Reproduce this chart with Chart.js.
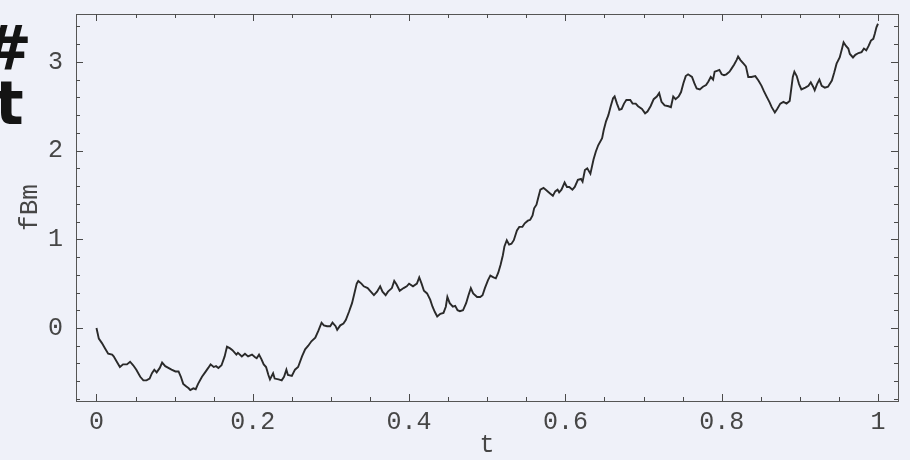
<!DOCTYPE html>
<html>
<head>
<meta charset="utf-8">
<title>fBm</title>
<script src="https://cdn.jsdelivr.net/npm/chart.js@4.4.1/dist/chart.umd.min.js"></script>
<style>
  html, body { margin: 0; padding: 0; background: #eff1f9; }
  #wrap { width: 910px; height: 460px; position: relative; }
</style>
</head>
<body>
<div id="wrap"><canvas id="c" width="910" height="460"></canvas></div>
<script>
// Sample times of the fractional Brownian motion path
const tValues = [
  0.000, 0.003, 0.007, 0.011, 0.015, 0.020, 0.022, 0.026, 0.030, 0.034, 0.039, 0.043, 0.047, 0.051, 0.056,
  0.060, 0.064, 0.068, 0.071, 0.074, 0.077, 0.081, 0.084, 0.088, 0.092, 0.096, 0.101, 0.105, 0.108, 0.111,
  0.115, 0.118, 0.120, 0.124, 0.127, 0.130, 0.135, 0.139, 0.143, 0.146, 0.150, 0.153, 0.156, 0.160, 0.164,
  0.167, 0.171, 0.174, 0.179, 0.181, 0.186, 0.190, 0.194, 0.199, 0.203, 0.205, 0.208, 0.211, 0.214, 0.217,
  0.220, 0.222, 0.226, 0.228, 0.233, 0.237, 0.240, 0.243, 0.245, 0.250, 0.254, 0.258, 0.263, 0.267, 0.271,
  0.275, 0.280, 0.284, 0.288, 0.291, 0.295, 0.299, 0.302, 0.306, 0.308, 0.312, 0.316, 0.319, 0.323, 0.327,
  0.330, 0.333, 0.335, 0.339, 0.342, 0.347, 0.351, 0.355, 0.359, 0.363, 0.366, 0.370, 0.373, 0.378, 0.381,
  0.384, 0.388, 0.393, 0.397, 0.400, 0.405, 0.410, 0.413, 0.416, 0.419, 0.423, 0.427, 0.430, 0.433, 0.436,
  0.440, 0.444, 0.447, 0.449, 0.452, 0.456, 0.459, 0.462, 0.465, 0.469, 0.473, 0.476, 0.479, 0.482, 0.487,
  0.491, 0.494, 0.497, 0.501, 0.504, 0.508, 0.511, 0.514, 0.517, 0.520, 0.522, 0.525, 0.528, 0.531, 0.534,
  0.538, 0.541, 0.545, 0.548, 0.552, 0.555, 0.558, 0.560, 0.563, 0.565, 0.568, 0.572, 0.576, 0.580, 0.584,
  0.587, 0.590, 0.592, 0.595, 0.599, 0.602, 0.605, 0.609, 0.612, 0.616, 0.620, 0.622, 0.625, 0.628, 0.632,
  0.636, 0.639, 0.642, 0.647, 0.649, 0.652, 0.655, 0.658, 0.661, 0.663, 0.666, 0.669, 0.672, 0.675, 0.678,
  0.683, 0.686, 0.690, 0.693, 0.698, 0.702, 0.705, 0.709, 0.713, 0.717, 0.720, 0.723, 0.727, 0.732, 0.735,
  0.738, 0.741, 0.745, 0.748, 0.751, 0.754, 0.757, 0.762, 0.765, 0.768, 0.772, 0.776, 0.780, 0.783, 0.786,
  0.789, 0.791, 0.794, 0.797, 0.800, 0.803, 0.806, 0.810, 0.813, 0.816, 0.819, 0.821, 0.824, 0.828, 0.831,
  0.834, 0.838, 0.843, 0.847, 0.851, 0.854, 0.858, 0.861, 0.864, 0.868, 0.871, 0.875, 0.879, 0.883, 0.887,
  0.891, 0.893, 0.896, 0.899, 0.902, 0.907, 0.911, 0.914, 0.917, 0.919, 0.922, 0.925, 0.928, 0.932, 0.936,
  0.941, 0.944, 0.947, 0.951, 0.954, 0.956, 0.959, 0.962, 0.964, 0.968, 0.971, 0.975, 0.979, 0.982, 0.985,
  0.988, 0.991, 0.994, 0.996, 0.998, 1.000
];

// Path values fBm(t) at each sample time
const fbmValues = [
  0.00, -0.12, -0.17, -0.23, -0.29, -0.30, -0.32, -0.38, -0.44, -0.41, -0.41, -0.38, -0.42, -0.47, -0.55,
  -0.59, -0.59, -0.57, -0.51, -0.47, -0.50, -0.45, -0.39, -0.43, -0.45, -0.47, -0.49, -0.49, -0.55, -0.63,
  -0.66, -0.68, -0.70, -0.68, -0.69, -0.63, -0.55, -0.50, -0.45, -0.41, -0.44, -0.43, -0.45, -0.42, -0.32,
  -0.21, -0.23, -0.25, -0.30, -0.28, -0.32, -0.29, -0.32, -0.30, -0.33, -0.34, -0.30, -0.35, -0.41, -0.44,
  -0.53, -0.58, -0.51, -0.57, -0.58, -0.59, -0.55, -0.47, -0.53, -0.54, -0.47, -0.44, -0.32, -0.24, -0.20,
  -0.15, -0.11, -0.03, 0.06, 0.03, 0.02, 0.02, 0.06, 0.02, -0.02, 0.03, 0.05, 0.09, 0.18, 0.28,
  0.39, 0.50, 0.53, 0.50, 0.47, 0.45, 0.41, 0.37, 0.41, 0.47, 0.41, 0.37, 0.41, 0.45, 0.53,
  0.49, 0.42, 0.45, 0.47, 0.50, 0.47, 0.50, 0.57, 0.50, 0.42, 0.39, 0.32, 0.24, 0.18, 0.13,
  0.16, 0.17, 0.24, 0.35, 0.28, 0.24, 0.25, 0.20, 0.19, 0.20, 0.28, 0.37, 0.45, 0.39, 0.35,
  0.35, 0.37, 0.45, 0.54, 0.59, 0.57, 0.56, 0.62, 0.71, 0.82, 0.92, 0.99, 0.94, 0.95, 0.99,
  1.10, 1.14, 1.14, 1.18, 1.21, 1.22, 1.27, 1.35, 1.39, 1.46, 1.56, 1.58, 1.55, 1.52, 1.49,
  1.54, 1.56, 1.53, 1.56, 1.64, 1.59, 1.59, 1.56, 1.59, 1.67, 1.68, 1.65, 1.78, 1.80, 1.74,
  1.90, 1.99, 2.06, 2.14, 2.23, 2.33, 2.40, 2.50, 2.59, 2.61, 2.53, 2.46, 2.47, 2.53, 2.57,
  2.57, 2.53, 2.53, 2.50, 2.47, 2.42, 2.44, 2.50, 2.58, 2.61, 2.65, 2.55, 2.51, 2.50, 2.49,
  2.61, 2.58, 2.61, 2.66, 2.76, 2.84, 2.86, 2.83, 2.76, 2.70, 2.69, 2.72, 2.74, 2.78, 2.83,
  2.80, 2.89, 2.90, 2.91, 2.86, 2.85, 2.86, 2.89, 2.93, 2.97, 3.02, 3.06, 3.02, 2.98, 2.95,
  2.83, 2.83, 2.84, 2.79, 2.73, 2.67, 2.60, 2.55, 2.49, 2.43, 2.47, 2.53, 2.55, 2.53, 2.56,
  2.83, 2.89, 2.84, 2.75, 2.69, 2.71, 2.73, 2.77, 2.72, 2.68, 2.75, 2.80, 2.73, 2.71, 2.72,
  2.79, 2.88, 2.98, 3.05, 3.15, 3.22, 3.18, 3.15, 3.09, 3.05, 3.08, 3.10, 3.11, 3.15, 3.13,
  3.18, 3.24, 3.26, 3.32, 3.39, 3.43
];

// Labelled frame ticks
const xTickValues = [0, 0.2, 0.4, 0.6, 0.8, 1];
const xTickLabels = ['0', '0.2', '0.4', '0.6', '0.8', '1'];
const yTickValues = [0, 1, 2, 3];
const yTickLabels = ['0', '1', '2', '3'];

// Plot range
const xMin = -0.0262, xMax = 1.0256;
const yMin = -0.823, yMax = 3.54;
const xMinorStep = 0.05;
const yMinorStep = 0.2;

const INK = '#464646';
const FONT = "'Liberation Mono', 'Courier New', 'DejaVu Sans Mono', monospace";

// Frame around the plot with ticks pointing inward on all four sides
const frameTicks = {
  id: 'frameTicks',
  afterDatasetsDraw(chart) {
    const { ctx, chartArea: a, scales: { x, y } } = chart;
    ctx.save();
    ctx.strokeStyle = '#555';
    ctx.lineWidth = 1;
    ctx.strokeRect(Math.round(a.left) + 0.5, Math.round(a.top) + 0.5,
                   Math.round(a.right - a.left), Math.round(a.bottom - a.top));
    ctx.strokeStyle = '#4a4a4a';
    const isMajor = (v, list) => list.some(m => Math.abs(m - v) < 1e-6);
    // horizontal axis ticks
    const nx0 = Math.ceil(xMin / xMinorStep), nx1 = Math.floor(xMax / xMinorStep);
    for (let k = nx0; k <= nx1; k++) {
      const v = +(k * xMinorStep).toFixed(4);
      const px = Math.round(x.getPixelForValue(v)) + 0.5;
      const len = isMajor(v, xTickValues) ? 7 : 4;
      ctx.beginPath();
      ctx.moveTo(px, a.bottom); ctx.lineTo(px, a.bottom - len);
      ctx.moveTo(px, a.top); ctx.lineTo(px, a.top + len);
      ctx.stroke();
    }
    // vertical axis ticks
    const ny0 = Math.ceil(yMin / yMinorStep), ny1 = Math.floor(yMax / yMinorStep);
    for (let k = ny0; k <= ny1; k++) {
      const v = +(k * yMinorStep).toFixed(4);
      const py = Math.round(y.getPixelForValue(v)) + 0.5;
      const len = isMajor(v, yTickValues) ? 7 : 4;
      ctx.beginPath();
      ctx.moveTo(a.left, py); ctx.lineTo(a.left + len, py);
      ctx.moveTo(a.right, py); ctx.lineTo(a.right - len, py);
      ctx.stroke();
    }
    ctx.restore();
  }
};

// Marker notes written in the page margin
const marginNotes = {
  id: 'marginNotes',
  afterDraw(chart) {
    const ctx = chart.ctx;
    ctx.save();
    ctx.fillStyle = '#141414';
    ctx.textBaseline = 'alphabetic';
    ctx.font = "bold 62px 'DejaVu Sans'";
    ctx.fillText('#', -20, 70);
    ctx.font = "bold 60px 'DejaVu Sans'";
    ctx.fillText('t', -5, 124);
    ctx.restore();
  }
};

const chart = new Chart(document.getElementById('c'), {
  type: 'line',
  data: {
    datasets: [{
      label: 'fBm',
      data: tValues.map((t, i) => ({ x: t, y: fbmValues[i] })),
      borderColor: '#2a2a2a',
      borderWidth: 1.9,
      pointRadius: 0,
      tension: 0,
      fill: false
    }]
  },
  options: {
    responsive: false,
    animation: false,
    layout: { padding: { top: 14, right: 12, left: 0, bottom: 0 } },
    plugins: { legend: { display: false }, tooltip: { enabled: false } },
    scales: {
      x: {
        type: 'linear',
        min: xMin,
        max: xMax,
        grid: { display: false, drawTicks: false },
        border: { display: false },
        afterBuildTicks: s => { s.ticks = xTickValues.map(v => ({ value: v })); },
        afterFit: s => { s.height = 59; s.paddingLeft = 0; s.paddingRight = 0; },
        ticks: {
          autoSkip: false,
          maxRotation: 0,
          padding: 6,
          color: INK,
          font: { family: FONT, size: 25 },
          callback: (v, i) => xTickLabels[i]
        },
        title: {
          display: true,
          text: 't',
          color: INK,
          font: { family: FONT, size: 25, lineHeight: 1 },
          padding: { top: 0, bottom: 2 }
        }
      },
      y: {
        type: 'linear',
        min: yMin,
        max: yMax,
        grid: { display: false, drawTicks: false },
        border: { display: false },
        afterBuildTicks: s => { s.ticks = yTickValues.map(v => ({ value: v })); },
        afterFit: s => { s.width = 76; s.paddingTop = 0; s.paddingBottom = 0; },
        ticks: {
          autoSkip: false,
          padding: 13,
          color: INK,
          font: { family: FONT, size: 25 },
          callback: (v, i) => yTickLabels[i]
        },
        title: {
          display: true,
          text: 'fBm',
          color: INK,
          font: { family: FONT, size: 26, lineHeight: 1 },
          padding: { top: 17, bottom: 0 }
        }
      }
    }
  },
  plugins: [frameTicks, marginNotes]
});
</script>
</body>
</html>
